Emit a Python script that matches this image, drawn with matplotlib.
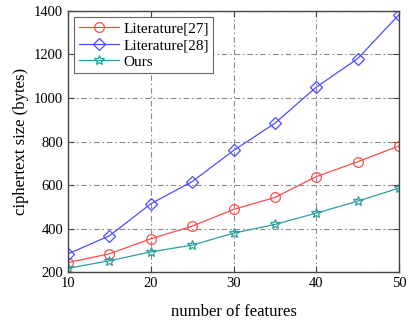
import numpy as np
import matplotlib
matplotlib.use("Agg")
import matplotlib.pyplot as plt

plt.rcParams['font.family'] = ['Liberation Serif', 'DejaVu Serif']

# number of features
features = [10, 15, 20, 25, 30, 35, 40, 45, 50]
# ciphertext sizes (bytes)
lit27 = [244, 284, 353, 411, 488, 543, 639, 707, 780]
lit28 = [284, 367, 514, 616, 759, 884, 1050, 1181, 1383]
ours = [218, 252, 293, 324, 379, 419, 471, 526, 586]

fig = plt.figure(figsize=(4.08, 3.22), dpi=100)
ax = fig.add_axes([0.167, 0.155, 0.811, 0.811])

ax.plot(features, lit27, '-', color='#ff4d4d', lw=0.9, marker='o', ms=7,
        mfc='none', mew=0.9, label='Literature[27]')
ax.plot(features, lit28, '-', color='#4d4dff', lw=0.9, marker='D', ms=6.5,
        mfc='none', mew=0.9, label='Literature[28]')
ax.plot(features, ours, '-', color='#2e9e9e', lw=0.9, marker='*', ms=7.5,
        mfc='none', mew=0.9, label='Ours')

ax.set_xlim(10, 50)
ax.set_ylim(200, 1400)
ax.set_xticks([10, 20, 30, 40, 50])
ax.set_yticks(np.arange(200, 1401, 200))
ax.tick_params(direction='in', top=True, right=True, labelsize=10.5, length=4,
               color='#444444')
ax.grid(True, color='#8c8c8c', ls=(0, (5, 2.5, 1.5, 2.5)), lw=0.8)
for sp in ax.spines.values():
    sp.set_color('#444444')
    sp.set_linewidth(1.0)

ax.set_xlabel('number of features', fontsize=12, labelpad=10)
ax.set_ylabel('ciphertext size (bytes)', fontsize=12)

leg = ax.legend(loc='upper left', fontsize=11, fancybox=False, framealpha=1,
                edgecolor='#666666', handlelength=2.6, borderpad=0.3,
                labelspacing=0.2, handletextpad=0.3, borderaxespad=0.4)
leg.get_frame().set_linewidth(0.8)

fig.savefig('out.png', dpi=100)
